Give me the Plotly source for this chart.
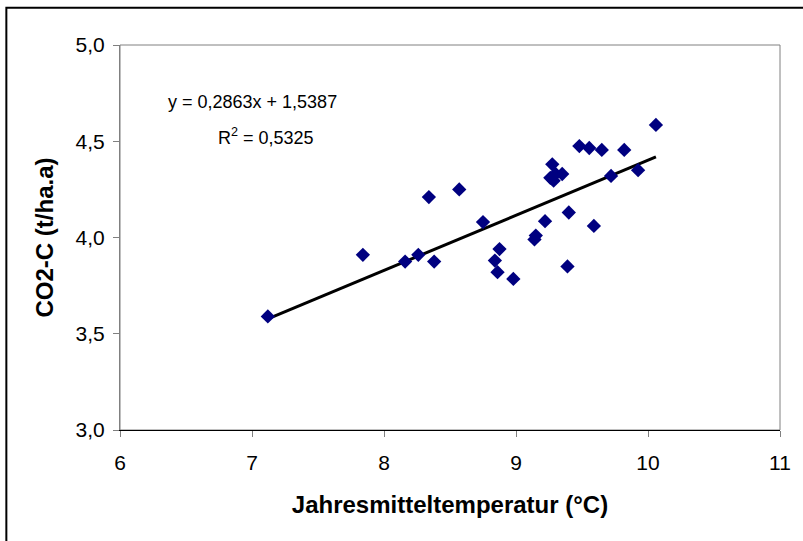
import plotly.graph_objects as go

# annual mean temperature (degC) vs CO2-C (t/ha.a)
temp = [7.12, 7.84, 8.16, 8.26, 8.34, 8.38, 8.57, 8.75, 8.84, 8.86,
        8.875, 8.98, 9.15, 9.14, 9.22, 9.275, 9.26, 9.285, 9.30, 9.35,
        9.40, 9.39, 9.48, 9.555, 9.59, 9.65, 9.72, 9.82, 9.925, 10.06]
co2c = [3.59, 3.91, 3.875, 3.91, 4.21, 3.875, 4.25, 4.08, 3.88, 3.82,
        3.94, 3.785, 4.01, 3.99, 4.085, 4.38, 4.31, 4.295, 4.33, 4.33,
        4.13, 3.85, 4.475, 4.465, 4.06, 4.455, 4.32, 4.455, 4.35, 4.585]

slope = 0.2863
intercept = 1.5387
r2 = 0.5325

x_ticks = [6, 7, 8, 9, 10, 11]
y_ticks = [3.0, 3.5, 4.0, 4.5, 5.0]

font = "Liberation Sans, Arial, sans-serif"

trend_x = [min(temp), max(temp)]
trend_y = [slope * v + intercept for v in trend_x]

fig = go.Figure()
fig.add_trace(go.Scatter(
    x=trend_x, y=trend_y, mode='lines',
    line=dict(color='black', width=3),
    hoverinfo='skip'
))
fig.add_trace(go.Scatter(
    x=temp, y=co2c, mode='markers',
    marker=dict(symbol='diamond', size=11, color='#000080'),
))

# plot box and outer frame
fig.add_shape(type='rect', xref='paper', yref='paper', x0=0, x1=1, y0=0, y1=1,
              line=dict(color='#808080', width=1), layer='below')
fig.add_shape(type='rect', xref='paper', yref='paper',
              x0=-0.1722, x1=1.04, y0=-0.305, y1=1.097,
              line=dict(color='black', width=2))

fig.add_annotation(
    x=0.0695, y=0.852, xref='paper', yref='paper', xanchor='left', yanchor='middle',
    text="y = 0,2863x + 1,5387", showarrow=False,
    font=dict(family=font, size=18, color='black')
)
fig.add_annotation(
    x=0.145, y=0.762, xref='paper', yref='paper', xanchor='left', yanchor='middle',
    text=f"R<sup>2</sup> = {r2:.4f}".replace('.', ','), showarrow=False,
    font=dict(family=font, size=18, color='black')
)

fig.update_layout(
    width=803, height=541,
    margin=dict(l=120, r=21, t=45, b=111),
    paper_bgcolor='white', plot_bgcolor='white',
    separators=',.',
    showlegend=False,
    font=dict(family=font, size=21, color='black'),
    xaxis=dict(
        range=[6, 11], tickvals=x_ticks, showgrid=False, zeroline=False,
        showline=True, linecolor='black', linewidth=1,
        ticks='outside', ticklen=6, tickcolor='#808080', ticklabelstandoff=8,
        title=dict(text="<b>Jahresmitteltemperatur (°C)</b>", font=dict(size=24), standoff=22),
    ),
    yaxis=dict(
        range=[3, 5], tickvals=y_ticks, tickformat='.1f', showgrid=False, zeroline=False,
        showline=True, linecolor='#808080', linewidth=1,
        ticks='outside', ticklen=6, tickcolor='#808080', ticklabelstandoff=4,
        title=dict(text="<b>CO2-C (t/ha.a)</b>", font=dict(size=24), standoff=15),
    ),
)

# drop the default page margin so the figure sits at the window's top-left corner
fig.write_html("out.html", config={'displayModeBar': False},
               post_script="document.body.style.margin='0';")
